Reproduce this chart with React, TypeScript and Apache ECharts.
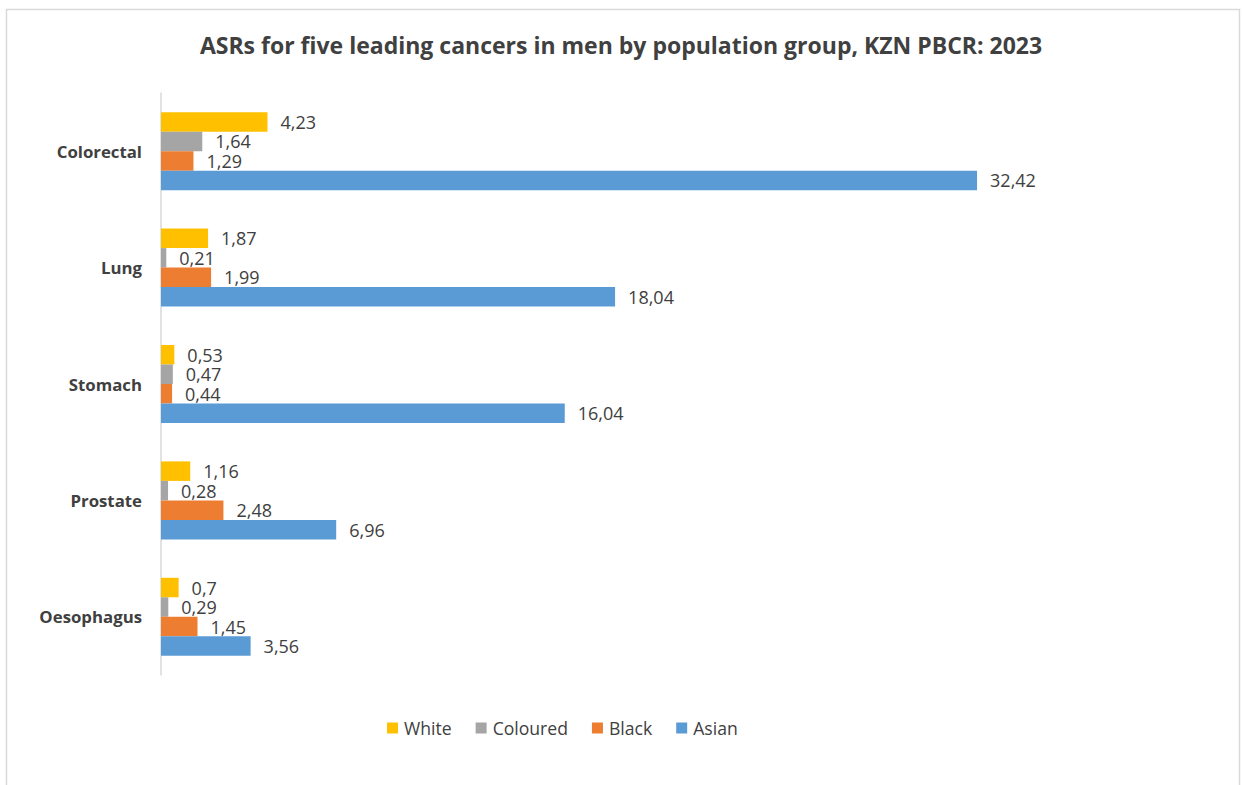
import React, { useEffect, useRef } from "react";
import * as echarts from "echarts";

const categories = ["Colorectal", "Lung", "Stomach", "Prostate", "Oesophagus"];
const seriesNames = ["White", "Coloured", "Black", "Asian"];
const whiteValues = [4.23, 1.87, 0.53, 1.16, 0.7];
const colouredValues = [1.64, 0.21, 0.47, 0.28, 0.29];
const blackValues = [1.29, 1.99, 0.44, 2.48, 1.45];
const asianValues = [32.42, 18.04, 16.04, 6.96, 3.56];
const colors = ["#FFC000", "#A5A5A5", "#ED7D31", "#5B9BD5"];

const FONT = "Open Sans";

export default function App() {
  const ref = useRef<HTMLDivElement>(null);
  useEffect(() => {
    document.body.style.margin = "0";
    if (!ref.current) return;
    const chart = echarts.init(ref.current, null, { renderer: "svg" });
    const values = [whiteValues, colouredValues, blackValues, asianValues];
    chart.setOption({
      animation: false,
      backgroundColor: "#ffffff",
      textStyle: { fontFamily: FONT },
      title: {
        text: "ASRs for five leading cancers in men by population group, KZN PBCR: 2023",
        left: "center",
        top: 28,
        textStyle: { fontFamily: FONT, fontWeight: "bold", fontSize: 23, color: "#404040" },
      },
      graphic: [
        {
          type: "rect",
          shape: { x: 6.5, y: 9.5, width: 1233, height: 800 },
          style: { fill: "none", stroke: "#d9d9d9", lineWidth: 1.5 },
          silent: true,
        },
      ],
      legend: {
        data: seriesNames,
        top: 714,
        left: 382,
        itemWidth: 11,
        itemHeight: 11,
        itemGap: 24,
        icon: "rect",
        textStyle: { fontFamily: FONT, fontSize: 17.6, color: "#404040", padding: [0, 0, 0, 1] },
      },
      grid: { left: 161, top: 93, width: 881, height: 582, containLabel: false },
      xAxis: {
        type: "value",
        min: 0,
        max: 35,
        axisLabel: { show: false },
        splitLine: { show: false },
        axisLine: { show: false },
        axisTick: { show: false },
      },
      yAxis: {
        type: "category",
        data: categories,
        inverse: true,
        axisLine: { show: true, lineStyle: { color: "#d9d9d9", width: 1.5 } },
        axisTick: { show: false },
        axisLabel: {
          margin: 19,
          fontFamily: FONT,
          fontWeight: "bold",
          fontSize: 16.8,
          color: "#404040",
        },
      },
      series: seriesNames.map((name, i) => ({
        name,
        type: "bar",
        data: values[i],
        barGap: "0%",
        barCategoryGap: "33%",
        itemStyle: { color: colors[i] },
        label: {
          show: true,
          position: "right",
          distance: 13,
          fontFamily: FONT,
          fontSize: 18,
          lineHeight: 19,
          color: "#404040",
          formatter: (p: any) => String(p.value).replace(".", ","),
        },
      })),
    });
    return () => chart.dispose();
  }, []);
  return <div ref={ref} style={{ width: 1242, height: 785 }} />;
}
